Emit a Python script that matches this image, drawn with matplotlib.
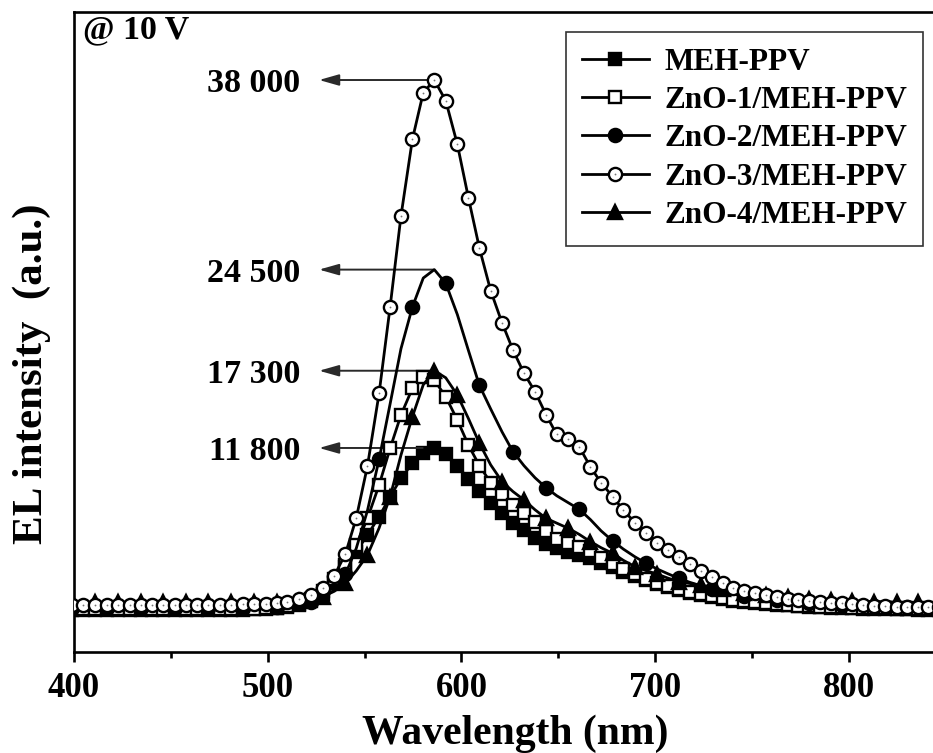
import matplotlib
matplotlib.use("Agg")
import matplotlib.pyplot as plt
from matplotlib.legend_handler import HandlerTuple
from matplotlib.patches import ArrowStyle

plt.rcParams['font.family'] = ['Liberation Serif', 'DejaVu Serif']
plt.rcParams['font.weight'] = 'bold'
plt.rcParams['axes.labelweight'] = 'bold'

# ---- data -------------------------------------------------------------
wavelength = [399.0, 404.8, 410.9, 416.9, 422.9, 428.9, 434.5, 440.5, 446.2, 452.2,
              457.9, 463.7, 469.4, 475.4, 481.1, 487.2, 493.0, 499.0, 504.7, 510.2,
              516.3, 522.3, 528.3, 534.4, 540.1, 545.7, 551.5, 557.5, 563.2, 568.8,
              574.7, 580.3, 586.0, 591.9, 597.9, 603.6, 609.3, 615.1, 621.0, 626.6,
              632.3, 638.0, 643.7, 649.2, 655.2, 660.8, 666.6, 672.1, 678.1, 683.6,
              689.6, 695.3, 700.8, 706.5, 712.2, 718.0, 723.9, 729.4, 734.8, 740.3,
              746.0, 751.7, 757.3, 762.8, 768.5, 774.0, 779.6, 785.2, 790.8, 796.4,
              801.8, 807.5, 813.2, 818.7, 824.8, 829.9, 835.9, 841.1, 846.5]

meh_ppv = [270, 270, 270, 270, 270, 270, 270, 270, 270, 270,
           270, 270, 270, 270, 270, 280, 300, 330, 400, 480,
           620, 900, 1400, 2200, 3350, 4420, 5600, 6910, 8330, 9640,
           10710, 11420, 11800, 11370, 10540, 9590, 8740, 7900, 7150, 6480,
           5960, 5370, 4940, 4660, 4420, 4180, 3970, 3610, 3330, 3000,
           2680, 2400, 2150, 1900, 1690, 1510, 1330, 1190, 1050, 940,
           830, 760, 700, 640, 590, 540, 500, 465, 435, 410,
           385, 365, 345, 330, 315, 300, 290, 280, 275]

zno1 = [330, 330, 330, 330, 330, 330, 330, 330, 330, 330,
        330, 330, 330, 330, 330, 335, 350, 380, 420, 520,
        700, 1050, 1650, 2500, 3500, 4890, 6790, 9160, 11780, 14150,
        16050, 16830, 16640, 15450, 13790, 12010, 10540, 9330, 8500, 7740,
        7150, 6550, 5910, 5320, 5010, 4770, 4450, 4000, 3550, 3150,
        2800, 2480, 2200, 1960, 1740, 1550, 1380, 1230, 1100, 990,
        890, 810, 740, 680, 625, 580, 540, 505, 475, 450,
        430, 410, 395, 380, 370, 360, 350, 345, 340]

zno2 = [400, 400, 400, 400, 400, 400, 400, 400, 400, 400,
        400, 400, 400, 400, 400, 400, 405, 420, 460, 520,
        620, 800, 1100, 1700, 2800, 4650, 7350, 10990, 14950, 18870,
        21840, 23900, 24500, 23530, 21300, 18750, 16250, 14580, 12940, 11540,
        10540, 9680, 8970, 8400, 7900, 7440, 6700, 5900, 5180, 4600,
        4050, 3590, 3200, 2850, 2520, 2230, 1980, 1760, 1570, 1400,
        1260, 1140, 1040, 950, 870, 800, 740, 690, 650, 610,
        580, 550, 530, 510, 495, 480, 470, 460, 450]

zno3 = [620, 620, 620, 620, 620, 620, 625, 630, 630, 635,
        640, 640, 645, 650, 655, 660, 670, 690, 740, 855,
        1050, 1300, 1830, 2720, 4250, 6800, 10520, 15690, 21860, 28320,
        33780, 37100, 38000, 36530, 33420, 29620, 26020, 23000, 20700, 18780,
        17120, 15810, 14170, 12760, 12420, 11890, 10450, 9330, 8330, 7380,
        6480, 5730, 5060, 4540, 4020, 3520, 3040, 2580, 2200, 1860,
        1620, 1450, 1300, 1170, 1050, 980, 905, 835, 785, 740,
        690, 620, 570, 530, 500, 500, 500, 500, 500]

zno4 = [820, 820, 820, 820, 820, 820, 820, 820, 820, 820,
        820, 820, 820, 820, 820, 820, 825, 835, 850, 880,
        940, 1040, 1200, 1600, 2170, 3050, 4180, 6100, 8330, 11300,
        14030, 16300, 17300, 16800, 15570, 13900, 12130, 10600, 9400, 8700,
        8100, 7400, 6790, 6450, 6080, 5650, 5130, 4700, 4300, 3800,
        3350, 3070, 2830, 2540, 2280, 2150, 2020, 1880, 1750, 1620,
        1500, 1400, 1310, 1230, 1160, 1100, 1050, 1000, 960, 930,
        900, 880, 860, 840, 830, 820, 820, 820, 820]

labels = ["MEH-PPV", "ZnO-1/MEH-PPV", "ZnO-2/MEH-PPV", "ZnO-3/MEH-PPV", "ZnO-4/MEH-PPV"]
series = [meh_ppv, zno1, zno2, zno3, zno4]

peak_labels = ["38 000", "24 500", "17 300", "11 800"]
peak_values = [38000, 24500, 17300, 11800]
arrow_start = [585.0, 585.5, 585.5, 580.0]

# ---- figure -----------------------------------------------------------
fig = plt.figure(figsize=(9.33, 7.53), dpi=100)
ax = fig.add_axes([74 / 933, 101 / 753, 871.7 / 933, 640 / 753])

styles = [
    dict(marker='s', mfc='black', ms=8.2, markevery=1, zorder=3),
    dict(marker='s', mfc='white', ms=8.2, markevery=1, zorder=4),
    dict(marker='o', mfc='black', ms=9.5, markevery=(0, 3), zorder=5),
    dict(marker='o', mfc='white', ms=9.5, markevery=1, zorder=7),
    dict(marker='^', mfc='black', ms=10.5, markevery=(0, 2), zorder=6),
]

handles = []
for y, lab, st in zip(series, labels, styles):
    ln, = ax.plot(wavelength, y, color='black', lw=2.0, mec='black', mew=1.7,
                  label=lab, **st)
    handles.append(ln)

# tiny centre dots of the open circles
dots, = ax.plot(wavelength, zno3, ls='none', marker='o', ms=1.3, color='#777777',
                mec='none', zorder=8)
handles[3] = (handles[3], dots)

ax.set_xlim(400, 850)
ax.set_ylim(-2726, 42842)
ax.set_xticks([400, 500, 600, 700, 800])
ax.set_xticks([450, 550, 650, 750], minor=True)
ax.set_yticks([])
ax.tick_params(axis='x', which='major', direction='out', length=7.2, width=1.9,
               labelsize=25, pad=7)
ax.tick_params(axis='x', which='minor', direction='out', length=4.3, width=1.9)
for sp in ax.spines.values():
    sp.set_linewidth(1.9)

ax.set_xlabel("Wavelength (nm)", fontsize=30, fontweight='bold', va='center')
ax.xaxis.set_label_coords(0.506, -0.127)
ax.set_ylabel("EL intensity  (a.u.)", fontsize=31, fontweight='bold', va='center')
ax.yaxis.set_label_coords(-0.048, 0.434)

ax.text(0.0105, 0.972, "@ 10 V", transform=ax.transAxes, fontsize=24.5,
        ha='left', va='center')

arrow = ArrowStyle('-|>', head_length=0.6, head_width=0.17)
for txt, val, x0 in zip(peak_labels, peak_values, arrow_start):
    ax.text(516.7, val, txt, fontsize=24.5, ha='right', va='center_baseline')
    ax.annotate('', xy=(526.5, val), xytext=(x0, val),
                arrowprops=dict(arrowstyle=arrow, mutation_scale=20, color='#2a2a2a',
                                lw=1.4, shrinkA=0, shrinkB=0))

leg = ax.legend(handles, labels, loc='upper right',
                bbox_to_anchor=(923 / 933, 721 / 753), bbox_transform=fig.transFigure,
                prop=dict(family='Liberation Serif', weight='bold', size=22.5),
                handlelength=2.15, handletextpad=0.5, labelspacing=0.3,
                borderpad=0.5, borderaxespad=0, frameon=True, fancybox=False,
                edgecolor='#333333', framealpha=1,
                handler_map={tuple: HandlerTuple(ndivide=1, pad=0)})
leg.get_frame().set_linewidth(1.2)
leg.set_zorder(10)

fig.savefig("out.png", dpi=100)
